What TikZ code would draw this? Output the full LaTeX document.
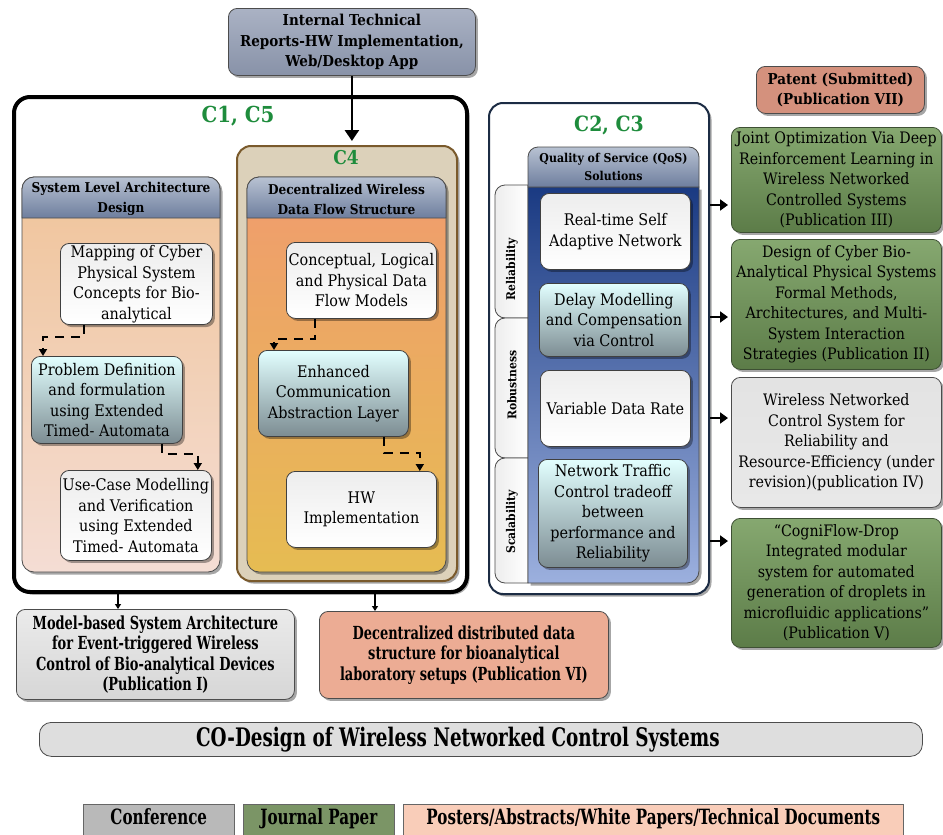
\documentclass[tikz,border=0pt]{standalone}
\usepackage{fontspec}
\setmainfont{DejaVu Serif Condensed}
\newfontfamily\condfont{DejaVu Serif Condensed}[FakeStretch=0.8]
\usetikzlibrary{shadows,calc,arrows.meta}

\definecolor{techTop}{HTML}{AAB2C4}
\definecolor{techBot}{HTML}{8892A8}
\definecolor{hdrTop}{HTML}{B8C2D2}
\definecolor{hdrBot}{HTML}{6E7E9E}
\definecolor{sysTop}{HTML}{F0C49A}
\definecolor{sysBot}{HTML}{F4DDD4}
\definecolor{decTop}{HTML}{F09C6E}
\definecolor{decBot}{HTML}{E6BC52}
\definecolor{cfourFill}{HTML}{DCD1BA}
\definecolor{cfourLine}{HTML}{7A5A2C}
\definecolor{cyanTop}{HTML}{E2FFFF}
\definecolor{cyanBot}{HTML}{7C8C92}
\definecolor{qosTop}{HTML}{1A3A82}
\definecolor{qosBot}{HTML}{9CB0DE}
\definecolor{navyLine}{HTML}{1C2C44}
\definecolor{labelGreen}{HTML}{1E8C3C}
\definecolor{patentFill}{HTML}{D4917D}
\definecolor{greenTop}{HTML}{86A870}
\definecolor{greenBot}{HTML}{5C7C48}
\definecolor{greenLine}{HTML}{3E5034}
\definecolor{salmonTop}{HTML}{ECAC94}
\definecolor{salmonMid}{HTML}{D89A84}
\definecolor{barFill}{HTML}{DEDEDE}
\definecolor{legGray}{HTML}{B9B9B9}
\definecolor{legGreen}{HTML}{7B9566}
\definecolor{legPeach}{HTML}{F9CDB9}

\tikzset{
  shadowed/.style={drop shadow={shadow xshift=2.5pt,shadow yshift=-2.5pt,opacity=0.35,fill=black}},
  box/.style={draw=black!75, line width=0.8pt, rounded corners=9pt, align=center,
    inner sep=2pt, anchor=north west, font=\fontsize{16}{20.5}\selectfont},
  whitebox/.style={box, shadowed, top color=gray!14, bottom color=white},
  cyanbox/.style={box, shadowed, top color=cyanTop, bottom color=cyanBot},
  pubgreen/.style={box, shadowed, draw=greenLine, top color=greenTop, bottom color=greenBot,
    font=\fontsize{15.8}{20.5}\selectfont},
  pubgray/.style={box, shadowed, draw=black!70, top color=gray!22, middle color=gray!45,
    bottom color=gray!18, font=\fontsize{15.8}{20.5}\selectfont},
  condbold/.style={font=\condfont\bfseries\fontsize{18}{20.5}\selectfont},
  hdrtext/.style={font=\bfseries\fontsize{13.5}{20}\selectfont, align=center},
  clabel/.style={font=\bfseries\fontsize{22}{26}\selectfont, text=labelGreen},
  tabtext/.style={font=\bfseries\fontsize{12}{14}\selectfont, rotate=90},
  dasharrow/.style={draw=black, line width=2pt, dash pattern=on 9pt off 7pt,
    -{Triangle[length=7pt,width=8pt]}},
  thickarrow/.style={draw=black, line width=2.6pt, -{Triangle[length=11pt,width=14pt]}},
  smallarrow/.style={draw=black, line width=1.4pt, -{Triangle[length=5pt,width=6pt]}},
  sidearrow/.style={draw=black, line width=2.6pt, -{Triangle[length=8pt,width=11pt]}},
  legend/.style={draw=black!60, line width=0.6pt, anchor=north west, inner sep=0pt,
    minimum height=31pt, text height=14pt, text depth=4pt,
    font=\condfont\bfseries\fontsize{21}{24}\selectfont}
}

\begin{document}
\begin{tikzpicture}[x=1pt,y=-1pt]
\useasboundingbox[fill=white] (0,0) rectangle (943,835);

% ---------- top report box ----------
\node[box, shadowed, draw=black!70, top color=techTop, bottom color=techBot,
  minimum width=247pt, minimum height=67pt, font=\bfseries\fontsize{15}{20.5}\selectfont]
  (tech) at (228,8) {Internal Technical\\Reports-HW Implementation,\\Web/Desktop App};

% ---------- C1, C5 frame ----------
\node[draw=black, line width=4pt, rounded corners=16pt, fill=white, anchor=north west,
  minimum width=453pt, minimum height=495pt, shadowed] (c15) at (12,95) {};
\node[clabel] (c15label) at (238,116) {C1, C5};

% ---------- C4 frame ----------
\node[draw=cfourLine, line width=2pt, rounded corners=14pt, fill=cfourFill, anchor=north west,
  minimum width=220pt, minimum height=435pt, shadowed] (c4) at (236,145) {};
\node[clabel, font=\bfseries\fontsize{19}{22}\selectfont] (c4label) at (346,158) {C4};

\draw[thickarrow] (tech.south) -- ($(tech.south |- c4.north)+(0,-4)$);

% ---------- system level architecture panel ----------
\path[shadowed, draw=black!70, line width=0.8pt, rounded corners=12pt,
  top color=sysTop, bottom color=sysBot] (22,177) rectangle (220,572);
\path[draw=black!70, line width=0.8pt, top color=hdrTop, bottom color=hdrBot]
  (22,218) [rounded corners=12pt] -- (22,177) -- (220,177) [sharp corners] -- (220,218) -- cycle;
\node[hdrtext] (systitle) at (121,199) {System Level Architecture\\Design};

\node[whitebox, minimum width=152pt, minimum height=81pt] (map) at (60,243)
  {Mapping of Cyber\\Physical System\\Concepts for Bio-\\analytical};
\node[cyanbox, minimum width=151pt, minimum height=87pt] (prob) at (31,356)
  {Problem Definition\\and formulation\\using Extended\\Timed- Automata};
\node[whitebox, minimum width=151pt, minimum height=90pt] (use) at (60,470)
  {Use-Case Modelling\\and Verification\\using Extended\\Timed- Automata};

\draw[dasharrow] ($(map.south west)+(24,0)$) -- ++(0,12) -| ($(prob.north west)+(12,0)$);
\draw[dasharrow] ($(prob.south east)+(-21,0)$) -- ++(0,10) -| ($(use.north east)+(-14,0)$);

% ---------- decentralized data flow panel ----------
\path[shadowed, draw=black!70, line width=0.8pt, rounded corners=12pt,
  top color=decTop, bottom color=decBot] (247,177) rectangle (446,572);
\path[draw=black!70, line width=0.8pt, top color=hdrTop, bottom color=hdrBot]
  (247,218) [rounded corners=12pt] -- (247,177) -- (446,177) [sharp corners] -- (446,218) -- cycle;
\node[hdrtext] (dectitle) at (346.5,199) {Decentralized Wireless\\Data Flow Structure};

\node[whitebox, minimum width=150pt, minimum height=76pt] (conc) at (286,242)
  {Conceptual, Logical\\and Physical Data\\Flow Models};
\node[cyanbox, minimum width=150pt, minimum height=86pt] (enh) at (258,350)
  {Enhanced\\Communication\\Abstraction Layer};
\node[whitebox, minimum width=150pt, minimum height=76pt] (hw) at (286,471)
  {HW\\Implementation};

\draw[dasharrow] ($(conc.south west)+(29,0)$) -- ++(0,20) -| ($(enh.north west)+(16,0)$);
\draw[dasharrow] ($(enh.south east)+(-25,0)$) -- ++(0,16) -| ($(hw.north east)+(-17,0)$);

% ---------- publications below C1, C5 ----------
\node[box, shadowed, draw=black!70, top color=gray!16, bottom color=gray!32,
  minimum width=278pt, minimum height=90pt, condbold]
  (model) at (16,609)
  {Model-based System Architecture\\for Event-triggered Wireless\\Control of Bio-analytical Devices\\(Publication I)};
\node[box, shadowed, draw=black!70, top color=salmonTop, middle color=salmonMid, bottom color=salmonTop,
  minimum width=289pt, minimum height=87pt, condbold]
  (decdist) at (319,611)
  {Decentralized distributed data\\structure for bioanalytical\\laboratory setups (Publication VI)};

\draw[smallarrow] ($(c15.south -| 118,0)+(0,-1)$) -- (model.north -| 118,0);
\draw[smallarrow] ($(c15.south -| 375,0)+(0,-1)$) -- (decdist.north -| 375,0);

% ---------- C2, C3 frame ----------
\node[draw=navyLine, line width=2pt, rounded corners=14pt, fill=white, anchor=north west,
  minimum width=220pt, minimum height=491pt, shadowed] (c23) at (488,102) {};
\node[clabel, font=\bfseries\fontsize{21}{24}\selectfont] (c23label) at (609,125) {C2, C3};

% side tabs
\path[draw=black!70, line width=0.8pt, left color=gray!14, right color=white]
  (528,185) [rounded corners=10pt] -- (495,185) -- (495,318) [sharp corners] -- (528,318) -- cycle;
\path[draw=black!70, line width=0.8pt, left color=gray!14, right color=white]
  (528,318) [rounded corners=10pt] -- (495,318) -- (495,458) [sharp corners] -- (528,458) -- cycle;
\path[draw=black!70, line width=0.8pt, left color=gray!14, right color=white]
  (528,458) [rounded corners=10pt] -- (495,458) -- (495,583) [sharp corners] -- (528,583) -- cycle;
\node[tabtext] (tabrel) at (512,269) {Reliability};
\node[tabtext] (tabrob) at (512,385) {Robustness};
\node[tabtext] (tabsca) at (512,522) {Scalability};

% QoS column
\path[shadowed, draw=black!70, line width=0.8pt, top color=qosTop, bottom color=qosBot]
  (528,583) -- (528,187) -- (699,187) [rounded corners=12pt] -- (699,583) [sharp corners] -- cycle;
\path[draw=black!70, line width=0.8pt, top color=hdrTop, bottom color=hdrBot]
  (528,187) [rounded corners=10pt] -- (528,147) -- (699,147) [sharp corners] -- (699,187) -- cycle;
\node[font=\bfseries\fontsize{12.2}{18}\selectfont, align=center] (qostitle) at (613.5,167)
  {Quality of Service (QoS)\\Solutions};

\node[whitebox, minimum width=150pt, minimum height=76pt] (rt) at (540,193)
  {Real-time Self\\Adaptive Network};
\node[cyanbox, minimum width=149pt, minimum height=73pt] (delay) at (539,283)
  {Delay Modelling\\and Compensation\\via Control};
\node[whitebox, minimum width=150pt, minimum height=76pt] (var) at (540,370)
  {Variable Data Rate};
\node[cyanbox, minimum width=149pt, minimum height=108pt] (ntc) at (538,459)
  {Network Traffic\\Control tradeoff\\between\\performance and\\Reliability};

% ---------- publications on the right ----------
\node[box, shadowed, draw=black!70, fill=patentFill, minimum width=168pt, minimum height=47pt,
  font=\bfseries\fontsize{15}{20.5}\selectfont] (patent) at (756,66)
  {Patent (Submitted)\\(Publication VII)};
\node[pubgreen, minimum width=210pt, minimum height=105pt] (joint) at (731,127)
  {Joint Optimization Via Deep\\Reinforcement Learning in\\Wireless Networked\\Controlled Systems\\(Publication III)};
\node[pubgreen, minimum width=210pt, minimum height=130pt] (design) at (731,239)
  {Design of Cyber Bio-\\Analytical Physical Systems\\Formal Methods,\\Architectures, and Multi-\\System Interaction\\Strategies (Publication II)};
\node[pubgray, minimum width=210pt, minimum height=130pt] (wnet) at (731,377)
  {Wireless Networked\\Control System for\\Reliability and\\Resource-Efficiency (under\\revision)(publication IV)};
\node[pubgreen, minimum width=210pt, minimum height=129pt] (cogni) at (731,518)
  {“CogniFlow-Drop\\Integrated modular\\system for automated\\generation of droplets in\\microfluidic applications”\\(Publication V)};

\draw[sidearrow] (c23.east |- 0,205) -- ($(joint.west |- 0,205)+(-3,0)$);
\draw[sidearrow] (c23.east |- 0,317) -- ($(design.west |- 0,317)+(-3,0)$);
\draw[sidearrow] (c23.east |- 0,418) -- ($(wnet.west |- 0,418)+(-3,0)$);
\draw[sidearrow] (c23.east |- 0,541) -- ($(cogni.west |- 0,541)+(-3,0)$);

% ---------- overall theme bar ----------
\node[draw=black!70, line width=0.8pt, rounded corners=12pt, anchor=north west,
  fill=barFill, minimum width=883pt, minimum height=34pt,
  inner sep=0pt, font=\condfont\bfseries\fontsize{25.5}{28}\selectfont] (codesign) at (39,722)
  {CO-Design of Wireless Networked Control Systems\hspace*{46pt}};

% ---------- legend ----------
\node[legend, fill=legGray, minimum width=151pt] (legconf) at (83,804) {Conference};
\node[legend, fill=legGreen, minimum width=151pt] (legjour) at (243,804) {Journal Paper};
\node[legend, fill=legPeach, minimum width=500pt] (legpost) at (403,804)
  {Posters/Abstracts/White Papers/Technical Documents};
\end{tikzpicture}
\end{document}
